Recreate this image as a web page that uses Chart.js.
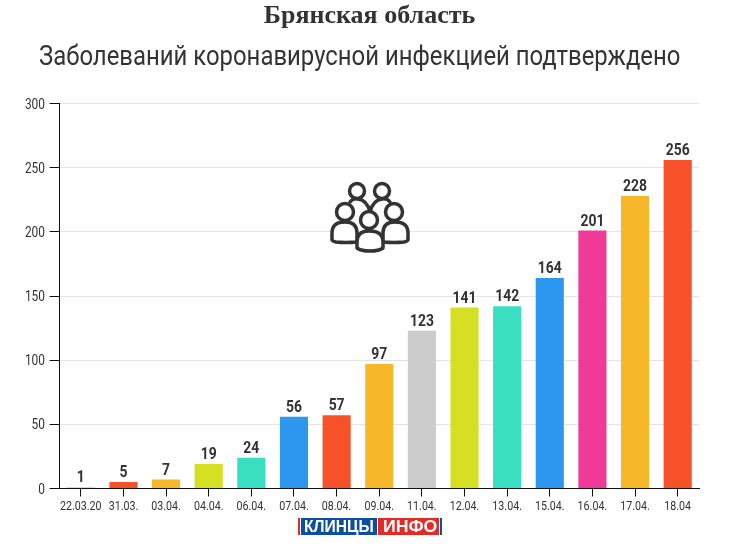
<!DOCTYPE html>
<html>
<head>
<meta charset="utf-8">
<script src="https://cdn.jsdelivr.net/npm/chart.js@4"></script>
<style>
html, body { margin: 0; padding: 0; background: #fff; }
#wrap { position: relative; width: 730px; height: 546px; overflow: hidden; }
#chart { position: absolute; left: 0; top: 0; }
#title1 { position: absolute; left: 0; width: 739px; top: 0; text-align: center; font: bold 26px "Liberation Serif", serif; color: #333; }
#title2 { position: absolute; left: 39px; top: 40px; font: 27px Roboto, sans-serif; color: #333; transform-origin: left top; transform: scaleX(0.885); white-space: nowrap; }
#icon { position: absolute; left: 320px; top: 175px; }
#logo { position: absolute; left: 298px; top: 518px; width: 144px; height: 17px; font: bold 17px/17px "Liberation Sans", sans-serif; color: #fff; }
#logo div { position: absolute; top: 0; height: 17px; }
#logo span { display: block; position: absolute; top: 0; white-space: nowrap; transform-origin: left top; }
</style>
</head>
<body>
<div id="wrap">
  <canvas id="chart" width="730" height="546"></canvas>
  <div id="title1">Брянская область</div>
  <div id="title2">Заболеваний коронавирусной инфекцией подтверждено</div>
  <svg id="icon" width="100" height="85" viewBox="0 0 100 85" fill="#fff" stroke="#333" stroke-width="3.5" stroke-linejoin="round" stroke-linecap="round">
    <path d="M30 27 q3 -4 8 -3 q9 1 12 13 q3 -12 12 -13 q5 -1 8 3" fill="none"/>
    <circle cx="37" cy="16" r="7.5"/>
    <circle cx="62" cy="16" r="7.5"/>
    <path d="M12 65 v-7 q0 -11 13 -11 q12 0 12 11 v9 q-12 1 -21 0 q-4 -1 -4 -2z"/>
    <path d="M88 65 v-7 q0 -11 -13 -11 q-12 0 -12 11 v9 q12 1 21 0 q4 -1 4 -2z"/>
    <circle cx="25" cy="37" r="8.5"/>
    <circle cx="74" cy="37" r="8.5"/>
    <path d="M37 73 v-6 q0 -11 12 -11 q14 0 14 11 v6 q-4 3 -13 3 q-9 0 -13 -3z"/>
    <circle cx="49" cy="45" r="8.5"/>
  </svg>
  <div id="logo">
    <div style="left:0;width:2px;background:#e22a26"></div>
    <div style="left:3px;width:76px;background:#0d4f9e"><span style="left:3px;transform:scaleX(0.92)">КЛИНЦЫ</span></div>
    <div style="left:80px;width:61px;background:#e22a26"><span style="left:5px;transform:scaleX(1.04)">ИНФО</span></div>
    <div style="left:142px;width:2px;background:#0d4f9e"></div>
  </div>
</div>
<script>
const labels = ['22.03.20', '31.03.', '03.04.', '04.04.', '06.04.', '07.04.', '08.04.', '09.04.', '11.04.', '12.04.', '13.04.', '15.04.', '16.04.', '17.04.', '18.04'];
const cases = [1, 5, 7, 19, 24, 56, 57, 97, 123, 141, 142, 164, 201, 228, 256];
const barColors = ['#cccccc', '#f65128', '#f7b72b', '#d4e021', '#3adfc2', '#2d96ee', '#f65128', '#f7b72b', '#cccccc', '#d4e021', '#3adfc2', '#2d96ee', '#f03a97', '#f7b72b', '#f65128'];
const yTicks = [0, 50, 100, 150, 200, 250, 300];

// Roboto Condensed n'est pas installé : on resserre Roboto à la main
function narrowText(ctx, text, x, y, font, sx, align, base) {
    ctx.save();
    ctx.font = font;
    ctx.fillStyle = '#333';
    ctx.textAlign = align;
    ctx.textBaseline = base;
    ctx.translate(x, y);
    ctx.scale(sx, 1);
    ctx.fillText(text, 0, 0);
    ctx.restore();
}

const textLayer = {
    id: 'textLayer',
    afterDraw(chart) {
        const ctx = chart.ctx;
        const sx = chart.scales.x, sy = chart.scales.y;
        chart.getDatasetMeta(0).data.forEach((b, i) => {
            narrowText(ctx, String(cases[i]), b.x, b.y - 5, 'bold 16px Roboto', 0.87, 'center', 'alphabetic');
            narrowText(ctx, labels[i], sx.getPixelForValue(i), 509.5, '13px Roboto', 0.82, 'center', 'alphabetic');
        });
        yTicks.forEach(v => {
            narrowText(ctx, String(v), 45, sy.getPixelForValue(v) + 5, '14px Roboto', 0.85, 'right', 'alphabetic');
        });
    }
};

new Chart(document.getElementById('chart'), {
    type: 'bar',
    data: {
        labels: labels,
        datasets: [{
            data: cases,
            backgroundColor: barColors,
            borderWidth: 0,
            categoryPercentage: 0.66,
            barPercentage: 1
        }]
    },
    options: {
        responsive: false,
        animation: false,
        layout: { padding: { top: 103.5, right: 31, left: 0, bottom: 0 } },
        plugins: { legend: { display: false }, tooltip: { enabled: false }, title: { display: false } },
        scales: {
            x: {
                afterFit: s => { s.height = 57.5; },
                grid: { offset: false, drawOnChartArea: false, tickColor: '#111', tickLength: 8 },
                border: { color: '#111', width: 1 },
                ticks: { display: false, autoSkip: false, maxRotation: 0 }
            },
            y: {
                min: 0,
                max: 300,
                afterFit: s => { s.width = 59.5; },
                afterBuildTicks: s => { s.ticks = yTicks.map(v => ({ value: v })); },
                grid: { color: '#e4e4e4', tickColor: '#111', tickLength: 10 },
                border: { color: '#111', width: 1 },
                ticks: { display: false }
            }
        }
    },
    plugins: [textLayer]
});
</script>
</body>
</html>
